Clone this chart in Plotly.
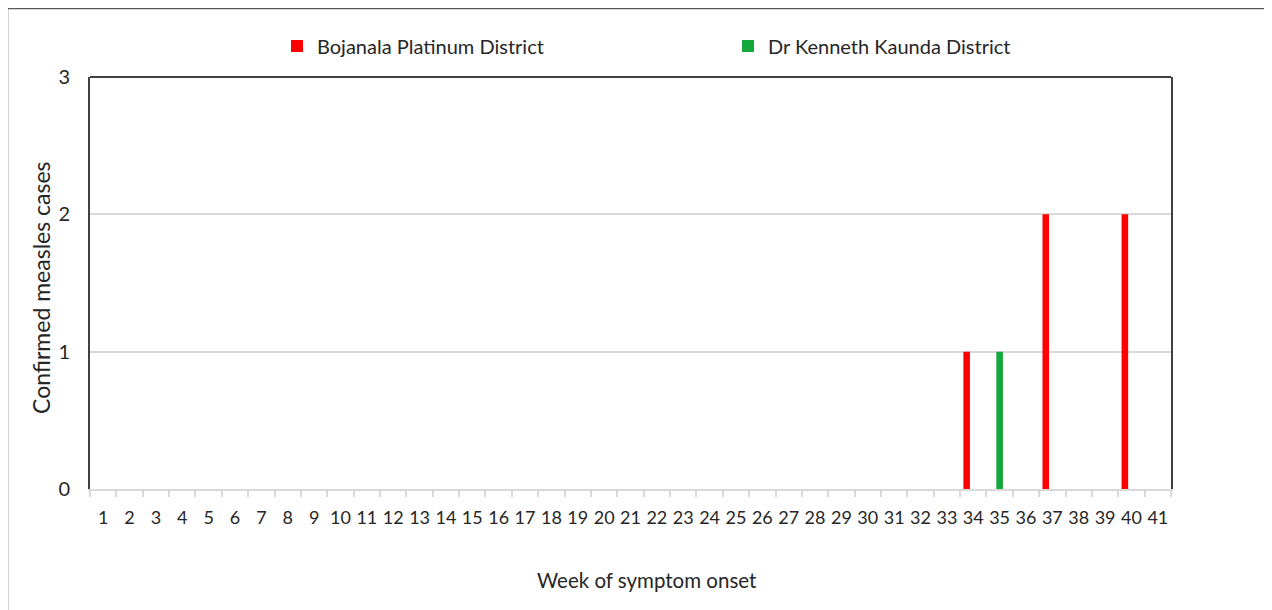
import plotly.graph_objects as go

weeks = [str(i) for i in range(1, 42)]
bojanala = [0]*33 + [1, 0, 0, 2, 0, 0, 2, 0]
kaunda = [0]*34 + [1, 0, 0, 0, 0, 0, 0]
series_names = ["Bojanala Platinum District", "Dr Kenneth Kaunda District"]
y_ticks = [0, 1, 2, 3]
x_title = "Week of symptom onset"
y_title = "Confirmed measles cases"

FONT = "Lato"
TXT = "#262626"

fig = go.Figure()
fig.add_trace(go.Bar(x=weeks, y=bojanala, name=series_names[0],
                     marker=dict(color="#FF0000", line=dict(width=0)),
                     width=0.25, offset=-0.375))
fig.add_trace(go.Bar(x=weeks, y=kaunda, name=series_names[1],
                     marker=dict(color="#14A83C", line=dict(width=0)),
                     width=0.25, offset=-0.125))

OFF = 8  # page body margin
L, R, T, B = 90 - OFF, 1171 - OFF, 77 - OFF, 489 - OFF
W, H = 1272 - OFF, 610 - OFF
pw, ph = R - L, B - T

def px(x):
    return (x - OFF - L) / pw

def py(y):
    return (B - (y - OFF)) / ph

fig.update_layout(
    width=W, height=H,
    margin=dict(l=L, r=W - R, t=T, b=H - B, pad=0),
    paper_bgcolor="white", plot_bgcolor="white",
    barmode="overlay",
    font=dict(family=FONT, color=TXT, size=18),
    showlegend=True,
    legend=dict(orientation="h", x=px(277), y=py(46), xanchor="left", yanchor="middle",
                font=dict(size=20, family=FONT, color=TXT),
                entrywidth=406, entrywidthmode="pixels",
                itemwidth=30, bgcolor="rgba(0,0,0,0)"),
    xaxis=dict(type="category", categoryorder="array", categoryarray=weeks,
               tickson="boundaries", ticks="outside", ticklen=6, tickwidth=1.5,
               tickcolor="#d9d9d9", showline=True, linecolor="#d9d9d9", linewidth=1.5,
               showgrid=False, tickangle=0, ticklabelstandoff=12,
               tickfont=dict(size=18, family=FONT, color=TXT),
               range=[-0.5, 40.5], fixedrange=True),
    yaxis=dict(range=[0, 3], tickvals=y_ticks, ticktext=[str(v) for v in y_ticks],
               showgrid=True, gridcolor="#d9d9d9", gridwidth=1.5,
               showline=True, linecolor="#404040", linewidth=2, mirror=True,
               zeroline=False, ticks="", ticklabelstandoff=14,
               tickfont=dict(size=20, family=FONT, color=TXT)),
    annotations=[
        dict(text=x_title, xref="paper", yref="paper", x=px(647), y=py(580),
             xanchor="center", yanchor="middle", showarrow=False,
             font=dict(size=20.5, family=FONT, color=TXT)),
        dict(text=y_title, xref="paper", yref="paper", x=px(41), y=py(288),
             xanchor="center", yanchor="middle", showarrow=False, textangle=-90,
             font=dict(size=23, family=FONT, color=TXT)),
    ],
    shapes=[
        dict(type="line", xref="paper", yref="paper", x0=0, x1=1, y0=1, y1=1,
             line=dict(color="#404040", width=2)),
        dict(type="line", xref="paper", yref="paper", x0=px(7), x1=px(1290), y0=py(8.5), y1=py(8.5),
             line=dict(color="#595959", width=1.5)),
        dict(type="line", xref="paper", yref="paper", x0=px(7.5), x1=px(7.5), y0=py(8.5), y1=py(630),
             line=dict(color="#595959", width=1.5)),
    ],
)

fig.write_html("out.html")
